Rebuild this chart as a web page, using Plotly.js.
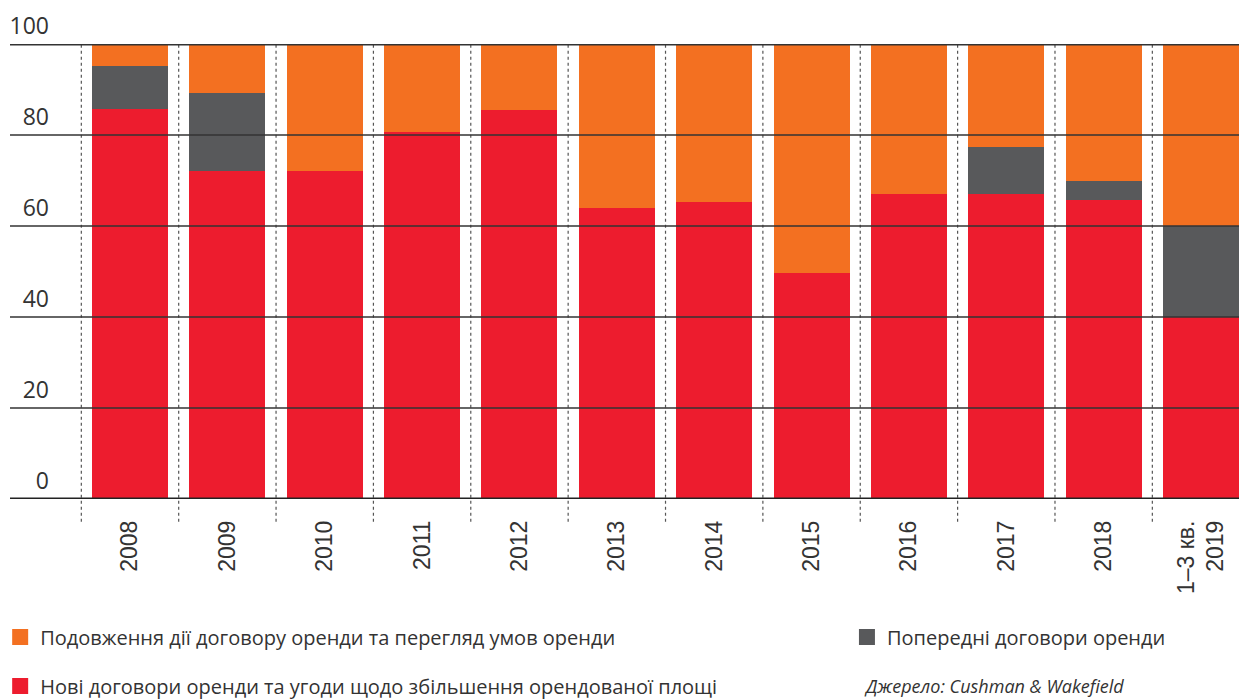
<!DOCTYPE html>
<html>
<head>
<meta charset="utf-8">
<script src="https://cdn.plot.ly/plotly-3.0.1.min.js"></script>
<style>html,body{margin:0;padding:0;background:#fff;}#chart{width:1239px;height:700px;}</style>
</head>
<body>
<div id="chart"></div>
<script>
// Categories (x tick labels)
const categories = ["2008","2009","2010","2011","2012","2013","2014","2015","2016","2017","2018","1–3 кв.<br>2019"];
// Series values (% share)
const newLeases   = [85.7, 72.1, 72.1, 80.7, 85.5, 64.0, 65.3, 49.7, 67.0, 67.0, 65.8, 40.0];
const preLeases   = [9.5, 17.1, 0, 0, 0, 0, 0, 0, 0, 10.4, 4.1, 20.0];
const renewals    = [4.8, 10.8, 27.9, 19.3, 14.5, 36.0, 34.7, 50.3, 33.0, 22.6, 30.1, 40.0];
// Series names
const nameRenewals = "Подовження дії договору оренди та перегляд умов оренди";
const namePre      = "Попередні договори оренди";
const nameNew      = "Нові договори оренди та угоди щодо збільшення орендованої площі";
const sourceText   = "Джерело: Cushman &amp; Wakefield";
// Y ticks
const yTickVals = [0, 20, 40, 60, 80, 100];
const yTickText = ["0", "20", "40", "60", "80", "100"];

const RED = "#ED1C2E", GREY = "#58595B", ORANGE = "#F37021";
const xIdx = categories.map((c, i) => i);

const bar = (y, color, name) => ({
  type: "bar", x: xIdx, y: y, name: name, width: 0.78,
  marker: {color: color, line: {width: 0}}, showlegend: false,
  hoverinfo: "y"
});
const leg = (color, name, legendId) => ({
  type: "scatter", mode: "markers", x: [null], y: [null], name: name,
  marker: {symbol: "square", size: 18, color: color},
  legend: legendId, hoverinfo: "skip"
});

const traces = [
  bar(newLeases, RED, nameNew),
  bar(preLeases, GREY, namePre),
  bar(renewals, ORANGE, nameRenewals),
  leg(ORANGE, nameRenewals, "legend"),
  leg(GREY, namePre, "legend2"),
  leg(RED, nameNew, "legend3")
];

const shapes = [];
yTickVals.forEach(v => {
  const thick = (v === 0 || v === 100);
  shapes.push({type: "line", xref: "paper", yref: "y", x0: 0, x1: 1, y0: v, y1: v,
    layer: "above", line: {color: v === 0 ? "#222" : "#333", width: thick ? 3 : 1.3}});
});
for (let i = 0; i < categories.length; i++) {
  shapes.push({type: "line", xref: "x", yref: "paper", x0: i - 0.5, x1: i - 0.5, y0: -0.05, y1: 1,
    layer: "below", line: {color: "#555", width: 1.2, dash: "dot"}});
}

const legendFont = {family: "Open Sans, sans-serif", size: 20, color: "#333"};
const legendBase = {orientation: "h", xanchor: "left", yanchor: "middle", font: legendFont,
  bgcolor: "rgba(0,0,0,0)", itemsizing: "trace", borderwidth: 0};

const layout = {
  width: 1239, height: 700,
  margin: {l: 10, r: 0, t: 44, b: 201, autoexpand: false},
  paper_bgcolor: "#fff", plot_bgcolor: "#fff",
  barmode: "stack", bargap: 0.22,
  showlegend: true,
  font: {family: "Open Sans, sans-serif", color: "#333"},
  xaxis: {
    range: [-1.2325, 11.39], tickmode: "array", tickvals: xIdx, ticktext: categories,
    tickangle: -90, showgrid: false, zeroline: false, showline: false, ticks: "",
    ticklabelstandoff: 16,
    tickfont: {family: "Liberation Sans, Arial, sans-serif", size: 23, color: "#333"},
    fixedrange: true
  },
  yaxis: {
    range: [0, 100], tickmode: "array", tickvals: yTickVals, ticktext: yTickText,
    showgrid: false, zeroline: false, showline: false, ticks: "",
    ticklabelshift: -18, ticklabelstandoff: -40,
    tickfont: {family: "Open Sans, sans-serif", size: 23, color: "#333"},
    fixedrange: true
  },
  legend:  Object.assign({}, legendBase, {x: -0.008, y: -0.3033}),
  legend2: Object.assign({}, legendBase, {x: 0.681, y: -0.3033}),
  legend3: Object.assign({}, legendBase, {x: -0.008, y: -0.411}),
  shapes: shapes,
  annotations: [{
    xref: "paper", yref: "paper", x: 0.6935, y: -0.411, xanchor: "left", yanchor: "middle",
    text: "<i>" + sourceText + "</i>", showarrow: false,
    font: {family: "Open Sans, sans-serif", size: 18, color: "#333"}
  }]
};

Plotly.newPlot("chart", traces, layout, {displayModeBar: false, staticPlot: true});
</script>
</body>
</html>
